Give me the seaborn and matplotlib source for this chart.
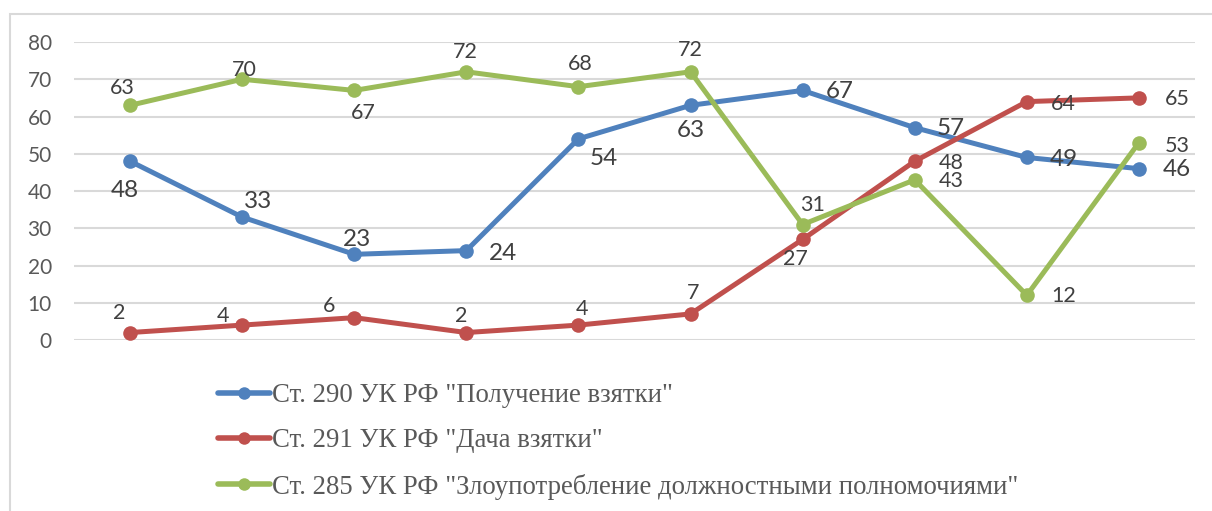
import matplotlib
matplotlib.use("Agg")
import matplotlib.pyplot as plt
import seaborn as sns
import pandas as pd
from matplotlib.patches import Rectangle

# ---- data ----
periods = list(range(1, 11))
series_names = [
    'Ст. 290 УК РФ "Получение взятки"',
    'Ст. 291 УК РФ "Дача взятки"',
    'Ст. 285 УК РФ "Злоупотребление должностными полномочиями"',
]
bribe_taking = [48, 33, 23, 24, 54, 63, 67, 57, 49, 46]
bribe_giving = [2, 4, 6, 2, 4, 7, 27, 48, 64, 65]
abuse_of_power = [63, 70, 67, 72, 68, 72, 31, 43, 12, 53]
y_ticks = [0, 10, 20, 30, 40, 50, 60, 70, 80]

colors = ["#4F81BD", "#C0504D", "#9BBB59"]

# label offsets in pixels (dx, dy) -- styling only
offsets = [
    [(-5, -29), (16, 16), (3, 15), (37, -3), (25, -20), (0, -25), (37, -1), (36, -1), (37, -2), (38, -1)],
    [(-11, 20), (-19, 9), (-25, 12), (-5, 17), (4, 16), (3, 21), (-7, -20), (36, -2), (36, -2), (38, -1)],
    [(-8, 17), (2, 9), (9, -23), (-1, 20), (2, 23), (0, 22), (10, 20), (36, -1), (37, -1), (38, -3)],
]
label_sizes = [17.5, 15.5, 15.5]

all_values = [bribe_taking, bribe_giving, abuse_of_power]
df = pd.DataFrame({
    "period": periods * 3,
    "value": bribe_taking + bribe_giving + abuse_of_power,
    "series": [series_names[0]] * 10 + [series_names[1]] * 10 + [series_names[2]] * 10,
})

sns.set_style("white")
plt.rcParams["font.family"] = ["Lato", "DejaVu Sans"]

W, H = 1212, 511
fig = plt.figure(figsize=(W / 100, H / 100), dpi=100)
ax = fig.add_axes([74 / W, (H - 340) / H, (1195 - 74) / W, (340 - 42) / H])

sns.lineplot(data=df, x="period", y="value", hue="series", palette=colors,
             marker="o", markersize=10.5, markeredgewidth=0, linewidth=3.6,
             ax=ax, legend=True, clip_on=False, zorder=3)

ax.set_xlim(0.5, 10.5)
ax.set_ylim(0, 80)
ax.set_yticks(y_ticks)
ax.set_yticklabels([str(t) for t in y_ticks], fontsize=15, color="#595959")
ax.set_xticks([])
ax.tick_params(axis="y", length=0, pad=16)
ax.set_xlabel("")
ax.set_ylabel("")
for s in ax.spines.values():
    s.set_visible(False)
ax.grid(axis="y", color="#d9d9d9", linewidth=1.5, zorder=0)
ax.set_axisbelow(True)

for vals, offs, fs in zip(all_values, offsets, label_sizes):
    for x, v, (dx, dy) in zip(periods, vals, offs):
        ax.annotate(str(v), (x, v), xytext=(dx, dy), textcoords="offset pixels",
                    ha="center", va="center", fontsize=fs, color="#404040",
                    zorder=5, annotation_clip=False)

handles, labels = ax.get_legend_handles_labels()
for h in handles:
    h.set_linewidth(4)
    h.set_markersize(9)
ax.legend(handles, labels, loc="upper left",
          bbox_to_anchor=(218 / W, (H - 383) / H), bbox_transform=fig.transFigure,
          frameon=False, handlelength=1.93, handletextpad=0.07, labelspacing=0.76,
          borderpad=0, borderaxespad=0,
          prop={"family": "Liberation Serif", "size": 19.3}, labelcolor="#595959")

fig.patches.append(Rectangle((10 / W, -0.1), 1.2, (H - 14) / H + 0.1,
                             transform=fig.transFigure, fill=False,
                             edgecolor="#d9d9d9", linewidth=1.5))

fig.savefig("out.png", dpi=100, facecolor="white")
